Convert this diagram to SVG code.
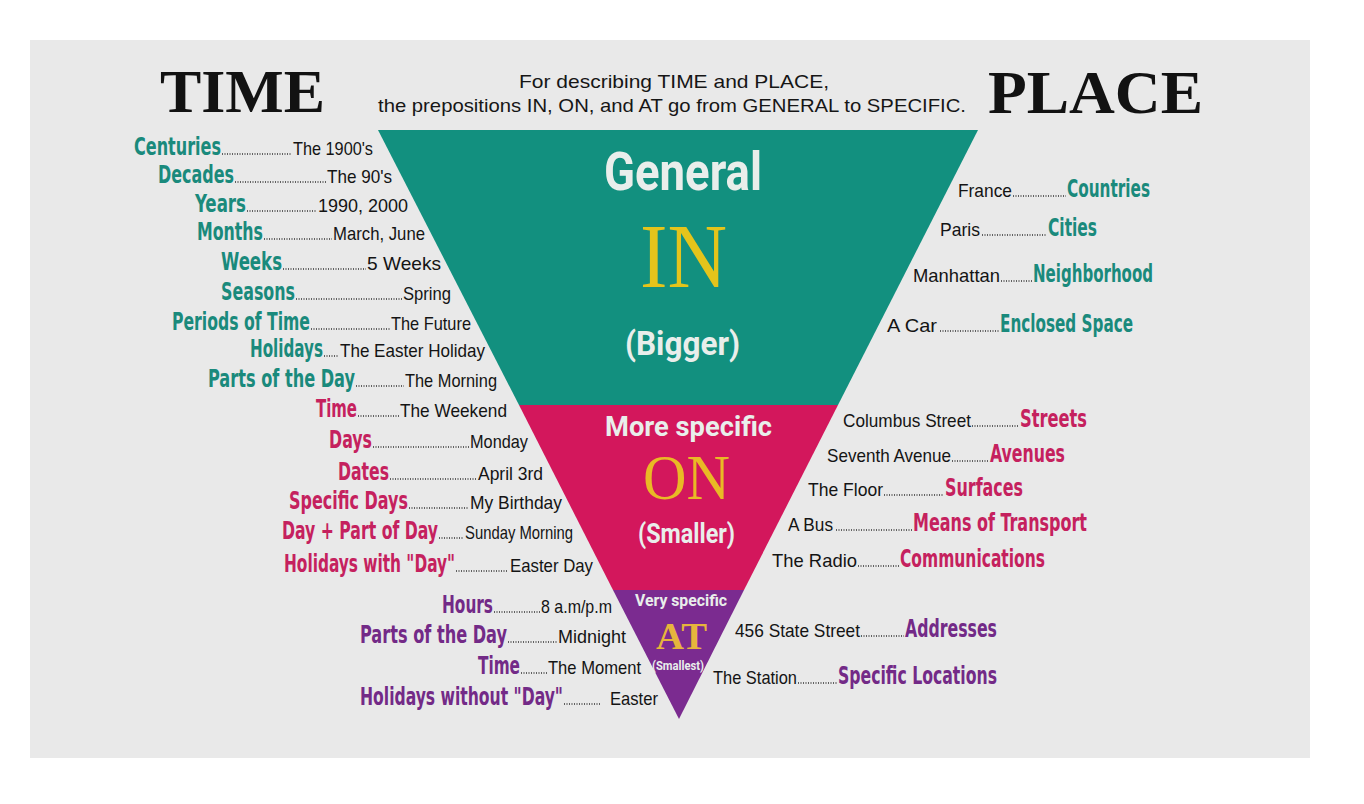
<svg xmlns="http://www.w3.org/2000/svg" width="1364" height="804" viewBox="0 0 1364 804">
<style>
.lbl{font-family:"Liberation Sans Narrow","DejaVu Sans Condensed","Roboto",sans-serif;font-weight:bold;font-size:17px}
.t{fill:#1a8a7c}.m{fill:#c5215e}.p{fill:#732a87}
.ex{font-family:"Liberation Sans","DejaVu Sans",sans-serif;font-size:19px;fill:#141414}
.dots{stroke:#333;stroke-width:1.3;stroke-dasharray:1 1.5;fill:none}
.ctr{font-family:"Roboto","Liberation Sans",sans-serif;font-weight:bold;fill:#e9eeeb}
.prep{font-family:"Liberation Serif","DejaVu Serif",serif}
.head{font-family:"Liberation Serif","DejaVu Serif",serif;font-weight:bold;font-size:62px;fill:#121212}
.sub{font-family:"Liberation Sans","DejaVu Sans",sans-serif;font-size:19px;fill:#161616}
</style>
<rect x="0" y="0" width="1364" height="804" fill="#ffffff"/>
<rect x="30" y="40" width="1280" height="718" fill="#e9e9e9"/>

<g id="header">
<text class="head" x="160" y="112" textLength="165" lengthAdjust="spacingAndGlyphs">TIME</text>
<text class="head" x="988" y="113" textLength="215" lengthAdjust="spacingAndGlyphs">PLACE</text>
<text class="sub" x="519" y="88" textLength="310" lengthAdjust="spacingAndGlyphs">For describing TIME and PLACE,</text>
<text class="sub" x="378" y="112" textLength="588" lengthAdjust="spacingAndGlyphs">the prepositions IN, ON, and AT go from GENERAL to SPECIFIC.</text>
</g>

<g id="node-in">
<polygon points="378,130 978,130 838,405 519,405" fill="#12907f"/>
<text class="ctr" x="604" y="190" font-size="54" textLength="158" lengthAdjust="spacingAndGlyphs">General</text>
<text class="prep" x="640" y="287" font-size="92" fill="#e4c41b" textLength="87" lengthAdjust="spacingAndGlyphs">IN</text>
<text class="ctr" x="625" y="355" font-size="34" textLength="115" lengthAdjust="spacingAndGlyphs">(Bigger)</text>
</g>
<g id="node-on">
<polygon points="519,405 838,405 744,590 613,590" fill="#d3175c"/>
<text class="ctr" x="605" y="436" font-size="28" textLength="167" lengthAdjust="spacingAndGlyphs">More specific</text>
<text class="prep" x="643" y="499" font-size="64" fill="#e9b925" textLength="87" lengthAdjust="spacingAndGlyphs">ON</text>
<text class="ctr" x="638" y="543" font-size="28" textLength="97" lengthAdjust="spacingAndGlyphs">(Smaller)</text>
</g>
<g id="node-at">
<polygon points="613,590 744,590 679,719" fill="#7b2b90"/>
<text class="ctr" x="635" y="606" font-size="17" textLength="92" lengthAdjust="spacingAndGlyphs">Very specific</text>
<text class="prep" x="656" y="649" font-size="38" font-weight="bold" fill="#e6b53c" textLength="51" lengthAdjust="spacingAndGlyphs">AT</text>
<text class="ctr" x="652" y="670" font-size="13.5" textLength="52" lengthAdjust="spacingAndGlyphs">(Smallest)</text>
</g>

<g id="connectors">
<line class="dots" x1="222" y1="154" x2="292" y2="154"/>
<line class="dots" x1="235" y1="182" x2="326" y2="182"/>
<line class="dots" x1="247" y1="211" x2="317" y2="211"/>
<line class="dots" x1="264" y1="239" x2="332" y2="239"/>
<line class="dots" x1="283" y1="269" x2="366" y2="269"/>
<line class="dots" x1="296" y1="299" x2="402" y2="299"/>
<line class="dots" x1="311" y1="329" x2="390" y2="329"/>
<line class="dots" x1="324" y1="356" x2="339" y2="356"/>
<line class="dots" x1="356" y1="386" x2="404" y2="386"/>
<line class="dots" x1="358" y1="416" x2="399" y2="416"/>
<line class="dots" x1="373" y1="447" x2="469" y2="447"/>
<line class="dots" x1="390" y1="479" x2="477" y2="479"/>
<line class="dots" x1="409" y1="508" x2="469" y2="508"/>
<line class="dots" x1="439" y1="538" x2="464" y2="538"/>
<line class="dots" x1="456" y1="571" x2="508" y2="571"/>
<line class="dots" x1="494" y1="612" x2="540" y2="612"/>
<line class="dots" x1="508" y1="642" x2="557" y2="642"/>
<line class="dots" x1="521" y1="673" x2="547" y2="673"/>
<line class="dots" x1="564" y1="704" x2="600" y2="704"/>
<line class="dots" x1="1013" y1="196" x2="1066" y2="196"/>
<line class="dots" x1="982" y1="235" x2="1047" y2="235"/>
<line class="dots" x1="1001" y1="281" x2="1032" y2="281"/>
<line class="dots" x1="940" y1="331" x2="999" y2="331"/>
<line class="dots" x1="972" y1="426" x2="1019" y2="426"/>
<line class="dots" x1="952" y1="461" x2="989" y2="461"/>
<line class="dots" x1="884" y1="495" x2="944" y2="495"/>
<line class="dots" x1="836" y1="530" x2="912" y2="530"/>
<line class="dots" x1="858" y1="566" x2="899" y2="566"/>
<line class="dots" x1="861" y1="636" x2="904" y2="636"/>
<line class="dots" x1="798" y1="683" x2="837" y2="683"/>
</g>

<g id="time-in">
<g id="t1"><text class="lbl t" transform="translate(134,155) scale(1,1.5)" textLength="87" lengthAdjust="spacingAndGlyphs">Centuries</text><text class="ex" x="293" y="155" textLength="80" lengthAdjust="spacingAndGlyphs">The 1900's</text></g>
<g id="t2"><text class="lbl t" transform="translate(158,183) scale(1,1.5)" textLength="76" lengthAdjust="spacingAndGlyphs">Decades</text><text class="ex" x="327" y="183" textLength="65" lengthAdjust="spacingAndGlyphs">The 90's</text></g>
<g id="t3"><text class="lbl t" transform="translate(195,212) scale(1,1.5)" textLength="51" lengthAdjust="spacingAndGlyphs">Years</text><text class="ex" x="318" y="212" textLength="90" lengthAdjust="spacingAndGlyphs">1990, 2000</text></g>
<g id="t4"><text class="lbl t" transform="translate(197,240) scale(1,1.5)" textLength="66" lengthAdjust="spacingAndGlyphs">Months</text><text class="ex" x="333" y="240" textLength="92" lengthAdjust="spacingAndGlyphs">March, June</text></g>
<g id="t5"><text class="lbl t" transform="translate(221,270) scale(1,1.5)" textLength="61" lengthAdjust="spacingAndGlyphs">Weeks</text><text class="ex" x="367" y="270" textLength="74" lengthAdjust="spacingAndGlyphs">5 Weeks</text></g>
<g id="t6"><text class="lbl t" transform="translate(221,300) scale(1,1.5)" textLength="74" lengthAdjust="spacingAndGlyphs">Seasons</text><text class="ex" x="403" y="300" textLength="48" lengthAdjust="spacingAndGlyphs">Spring</text></g>
<g id="t7"><text class="lbl t" transform="translate(172,330) scale(1,1.5)" textLength="138" lengthAdjust="spacingAndGlyphs">Periods of Time</text><text class="ex" x="391" y="330" textLength="80" lengthAdjust="spacingAndGlyphs">The Future</text></g>
<g id="t8"><text class="lbl t" transform="translate(250,357) scale(1,1.5)" textLength="73" lengthAdjust="spacingAndGlyphs">Holidays</text><text class="ex" x="340" y="357" textLength="145" lengthAdjust="spacingAndGlyphs">The Easter Holiday</text></g>
<g id="t9"><text class="lbl t" transform="translate(208,387) scale(1,1.5)" textLength="147" lengthAdjust="spacingAndGlyphs">Parts of the Day</text><text class="ex" x="405" y="387" textLength="92" lengthAdjust="spacingAndGlyphs">The Morning</text></g>
</g>

<g id="time-on">
<g id="t10"><text class="lbl m" transform="translate(316,417) scale(1,1.5)" textLength="41" lengthAdjust="spacingAndGlyphs">Time</text><text class="ex" x="400" y="417" textLength="107" lengthAdjust="spacingAndGlyphs">The Weekend</text></g>
<g id="t11"><text class="lbl m" transform="translate(329,448) scale(1,1.5)" textLength="43" lengthAdjust="spacingAndGlyphs">Days</text><text class="ex" x="470" y="448" textLength="58" lengthAdjust="spacingAndGlyphs">Monday</text></g>
<g id="t12"><text class="lbl m" transform="translate(338,480) scale(1,1.5)" textLength="51" lengthAdjust="spacingAndGlyphs">Dates</text><text class="ex" x="478" y="480" textLength="65" lengthAdjust="spacingAndGlyphs">April 3rd</text></g>
<g id="t13"><text class="lbl m" transform="translate(289,509) scale(1,1.5)" textLength="119" lengthAdjust="spacingAndGlyphs">Specific Days</text><text class="ex" x="470" y="509" textLength="92" lengthAdjust="spacingAndGlyphs">My Birthday</text></g>
<g id="t14"><text class="lbl m" transform="translate(282,539) scale(1,1.5)" textLength="156" lengthAdjust="spacingAndGlyphs">Day + Part of Day</text><text class="ex" x="465" y="539" textLength="108" lengthAdjust="spacingAndGlyphs">Sunday Morning</text></g>
<g id="t15"><text class="lbl m" transform="translate(284,572) scale(1,1.5)" textLength="171" lengthAdjust="spacingAndGlyphs">Holidays with "Day"</text><text class="ex" x="510" y="572" textLength="83" lengthAdjust="spacingAndGlyphs">Easter Day</text></g>
</g>

<g id="time-at">
<g id="t16"><text class="lbl p" transform="translate(442,613) scale(1,1.5)" textLength="51" lengthAdjust="spacingAndGlyphs">Hours</text><text class="ex" x="541" y="613" textLength="71" lengthAdjust="spacingAndGlyphs">8 a.m/p.m</text></g>
<g id="t17"><text class="lbl p" transform="translate(360,643) scale(1,1.5)" textLength="147" lengthAdjust="spacingAndGlyphs">Parts of the Day</text><text class="ex" x="558" y="643" textLength="68" lengthAdjust="spacingAndGlyphs">Midnight</text></g>
<g id="t18"><text class="lbl p" transform="translate(478,674) scale(1,1.5)" textLength="42" lengthAdjust="spacingAndGlyphs">Time</text><text class="ex" x="548" y="674" textLength="93" lengthAdjust="spacingAndGlyphs">The Moment</text></g>
<g id="t19"><text class="lbl p" transform="translate(360,705) scale(1,1.5)" textLength="203" lengthAdjust="spacingAndGlyphs">Holidays without "Day"</text><text class="ex" x="610" y="705" textLength="48" lengthAdjust="spacingAndGlyphs">Easter</text></g>
</g>

<g id="place-in">
<g id="p1"><text class="ex" x="958" y="197" textLength="54" lengthAdjust="spacingAndGlyphs">France</text><text class="lbl t" transform="translate(1067,197) scale(1,1.5)" textLength="83" lengthAdjust="spacingAndGlyphs">Countries</text></g>
<g id="p2"><text class="ex" x="940" y="236" textLength="40" lengthAdjust="spacingAndGlyphs">Paris</text><text class="lbl t" transform="translate(1048,236) scale(1,1.5)" textLength="49" lengthAdjust="spacingAndGlyphs">Cities</text></g>
<g id="p3"><text class="ex" x="913" y="282" textLength="87" lengthAdjust="spacingAndGlyphs">Manhattan</text><text class="lbl t" transform="translate(1033,282) scale(1,1.5)" textLength="120" lengthAdjust="spacingAndGlyphs">Neighborhood</text></g>
<g id="p4"><text class="ex" x="887" y="332" textLength="50" lengthAdjust="spacingAndGlyphs">A Car</text><text class="lbl t" transform="translate(1000,332) scale(1,1.5)" textLength="133" lengthAdjust="spacingAndGlyphs">Enclosed Space</text></g>
</g>

<g id="place-on">
<g id="p5"><text class="ex" x="843" y="427" textLength="128" lengthAdjust="spacingAndGlyphs">Columbus Street</text><text class="lbl m" transform="translate(1020,427) scale(1,1.5)" textLength="67" lengthAdjust="spacingAndGlyphs">Streets</text></g>
<g id="p6"><text class="ex" x="827" y="462" textLength="124" lengthAdjust="spacingAndGlyphs">Seventh Avenue</text><text class="lbl m" transform="translate(990,462) scale(1,1.5)" textLength="75" lengthAdjust="spacingAndGlyphs">Avenues</text></g>
<g id="p7"><text class="ex" x="808" y="496" textLength="75" lengthAdjust="spacingAndGlyphs">The Floor</text><text class="lbl m" transform="translate(945,496) scale(1,1.5)" textLength="78" lengthAdjust="spacingAndGlyphs">Surfaces</text></g>
<g id="p8"><text class="ex" x="788" y="531" textLength="45" lengthAdjust="spacingAndGlyphs">A Bus</text><text class="lbl m" transform="translate(913,531) scale(1,1.5)" textLength="174" lengthAdjust="spacingAndGlyphs">Means of Transport</text></g>
<g id="p9"><text class="ex" x="772" y="567" textLength="85" lengthAdjust="spacingAndGlyphs">The Radio</text><text class="lbl m" transform="translate(900,567) scale(1,1.5)" textLength="145" lengthAdjust="spacingAndGlyphs">Communications</text></g>
</g>

<g id="place-at">
<g id="p10"><text class="ex" x="735" y="637" textLength="125" lengthAdjust="spacingAndGlyphs">456 State Street</text><text class="lbl p" transform="translate(905,637) scale(1,1.5)" textLength="92" lengthAdjust="spacingAndGlyphs">Addresses</text></g>
<g id="p11"><text class="ex" x="713" y="684" textLength="84" lengthAdjust="spacingAndGlyphs">The Station</text><text class="lbl p" transform="translate(838,684) scale(1,1.5)" textLength="159" lengthAdjust="spacingAndGlyphs">Specific Locations</text></g>
</g>
</svg>
